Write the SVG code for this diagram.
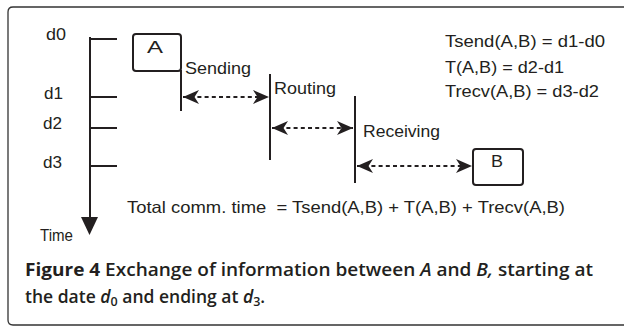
<svg xmlns="http://www.w3.org/2000/svg" width="624" height="327" viewBox="0 0 624 327">
<style>
.t{font-family:"Liberation Sans",Arial,sans-serif;font-size:16.5px;fill:#231f20}
.ln{stroke:#231f20;stroke-width:2;fill:none}
.dash{stroke:#231f20;stroke-width:2;fill:none;stroke-dasharray:4 3.2;marker-start:url(#ah);marker-end:url(#ah)}
.box{fill:#fff;stroke:#231f20;stroke-width:2}
.cap{font-family:"Open Sans","Noto Sans",sans-serif;font-size:17.5px;fill:#231f20;font-weight:600}
</style>
<defs>
<marker id="ah" markerUnits="userSpaceOnUse" markerWidth="17" markerHeight="15" refX="16" refY="7" orient="auto-start-reverse" viewBox="0 0 17 14">
<path d="M0,0 L16,7 L0,14 L4.5,7 Z" fill="#231f20"/>
</marker>
</defs>
<rect width="624" height="327" fill="#fff"/>
<path d="M632 7 H13 Q8 7 8 12 V320 Q8 325 13 325 H632" fill="none" stroke="#333" stroke-width="1.3"/>

<g id="timeline">
<line class="ln" x1="90" y1="37" x2="90" y2="222"/>
<polygon points="81,217 98,217 89.5,235" fill="#231f20"/>
<line class="ln" x1="89" y1="39" x2="117" y2="39"/>
<line class="ln" x1="89" y1="97" x2="117" y2="97"/>
<line class="ln" x1="89" y1="128" x2="117" y2="128"/>
<line class="ln" x1="89" y1="166" x2="117" y2="166"/>
<text class="t" x="46" y="40" textLength="20" lengthAdjust="spacingAndGlyphs">d0</text>
<text class="t" x="44" y="99" textLength="19" lengthAdjust="spacingAndGlyphs">d1</text>
<text class="t" x="43" y="129" textLength="19" lengthAdjust="spacingAndGlyphs">d2</text>
<text class="t" x="43" y="168" textLength="19" lengthAdjust="spacingAndGlyphs">d3</text>
<text class="t" x="40" y="241" textLength="33" lengthAdjust="spacingAndGlyphs">Time</text>
</g>

<g id="nodeA">
<rect class="box" x="133" y="34" width="48" height="37" rx="3"/>
<text class="t" x="147" y="53" textLength="16" lengthAdjust="spacingAndGlyphs">A</text>
</g>

<g id="sending">
<line class="ln" x1="181" y1="70" x2="181" y2="111"/>
<text class="t" x="185" y="74" textLength="66" lengthAdjust="spacingAndGlyphs">Sending</text>
</g>

<g id="routing">
<line class="ln" x1="270" y1="74" x2="270" y2="160"/>
<text class="t" x="274" y="94" textLength="62" lengthAdjust="spacingAndGlyphs">Routing</text>
</g>

<g id="receiving">
<line class="ln" x1="355" y1="96" x2="355" y2="183"/>
<text class="t" x="363" y="137" textLength="77" lengthAdjust="spacingAndGlyphs">Receiving</text>
</g>

<g id="nodeB">
<rect class="box" x="473" y="149" width="50" height="36" rx="3"/>
<text class="t" x="491" y="167" textLength="12" lengthAdjust="spacingAndGlyphs">B</text>
</g>

<g id="connectors">
<line class="dash" x1="183" y1="97" x2="269" y2="97"/>
<line class="dash" x1="272" y1="128" x2="353" y2="128"/>
<line class="dash" x1="357" y1="166" x2="472" y2="166"/>
</g>

<g id="formulas">
<text class="t" x="445" y="47" textLength="160" lengthAdjust="spacingAndGlyphs">Tsend(A,B) = d1-d0</text>
<text class="t" x="445" y="73" textLength="119" lengthAdjust="spacingAndGlyphs">T(A,B) = d2-d1</text>
<text class="t" x="445" y="97" textLength="154" lengthAdjust="spacingAndGlyphs">Trecv(A,B) = d3-d2</text>
<text class="t" x="127" y="213" textLength="438" lengthAdjust="spacingAndGlyphs" xml:space="preserve">Total comm. time  = Tsend(A,B) + T(A,B) + Trecv(A,B)</text>
</g>

<g id="caption">
<text class="cap" x="25" y="276" textLength="568" lengthAdjust="spacingAndGlyphs"><tspan font-weight="700">Figure 4</tspan> Exchange of information between <tspan font-style="italic">A</tspan> and <tspan font-style="italic">B,</tspan> starting at</text>
<text class="cap" x="25" y="303">the date <tspan font-style="italic">d</tspan><tspan font-size="12.5" dy="3">0</tspan><tspan dy="-3"> and ending at </tspan><tspan font-style="italic">d</tspan><tspan font-size="12.5" dy="3">3</tspan><tspan dy="-3">.</tspan></text>
</g>
</svg>
